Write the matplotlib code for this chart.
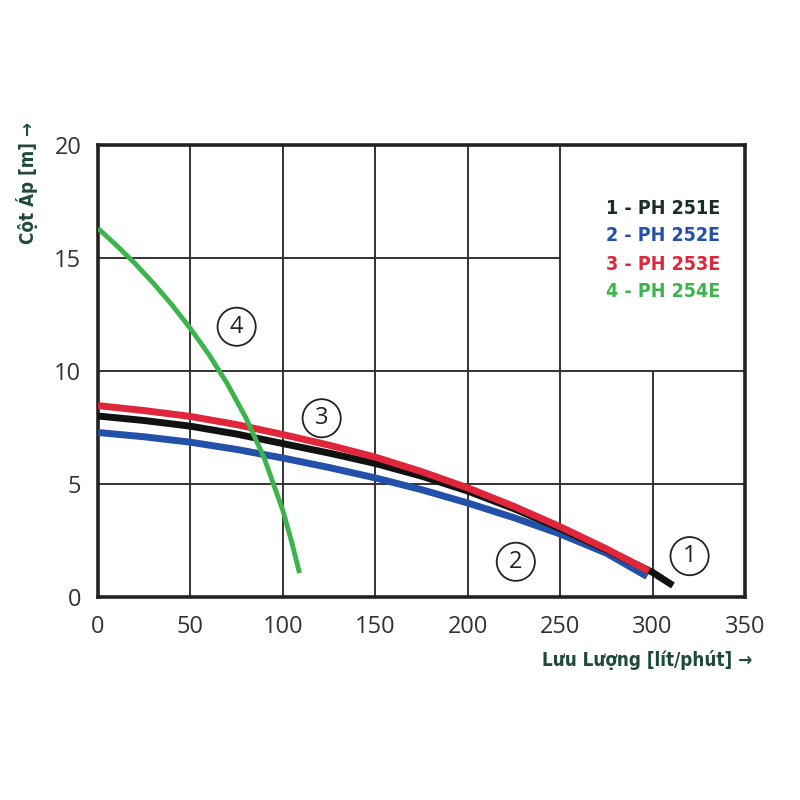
import os
import matplotlib
matplotlib.use("Agg")
import matplotlib.pyplot as plt
from matplotlib import font_manager as fm

# ---------------- data ----------------
x_ticks = [0, 50, 100, 150, 200, 250, 300, 350]
y_ticks = [0, 5, 10, 15, 20]

x1 = [0, 25, 50, 75, 100, 125, 150, 175, 200, 225, 250, 275, 300, 311]
y1 = [8.0, 7.8, 7.55, 7.2, 6.78, 6.36, 5.9, 5.34, 4.68, 3.9, 3.02, 2.08, 1.08, 0.5]

x2 = [0, 25, 50, 75, 100, 125, 150, 175, 200, 225, 250, 275, 297]
y2 = [7.27, 7.08, 6.84, 6.52, 6.14, 5.72, 5.26, 4.74, 4.15, 3.5, 2.78, 1.93, 0.9]

x3 = [0, 25, 50, 75, 100, 125, 150, 175, 200, 225, 250, 275, 298]
y3 = [8.46, 8.24, 7.98, 7.62, 7.18, 6.71, 6.18, 5.54, 4.82, 4.0, 3.1, 2.12, 1.14]

x4 = [0, 10, 20, 30, 40, 50, 60, 70, 80, 90, 100, 105, 109]
y4 = [16.3, 15.55, 14.75, 13.87, 12.92, 11.87, 10.72, 9.42, 7.92, 6.12, 3.82, 2.35, 1.05]

legend_labels = ["1 - PH 251E", "2 - PH 252E", "3 - PH 253E", "4 - PH 254E"]
curve_ids = ["1", "2", "3", "4"]
label_pos = [(320, 1.8), (226, 1.55), (121, 7.9), (75, 11.95)]

xlabel = "Lưu Lượng [lít/phút] →"
ylabel = "Cột Áp [m] →"

# ---------------- fonts ----------------
def find_font(names):
    files = fm.findSystemFonts()
    for n in names:
        for f in files:
            if os.path.basename(f).lower() == n.lower():
                return f
    return None

narrow_file = find_font(["LiberationSansNarrow-Bold.ttf", "DejaVuSansCondensed-Bold.ttf",
                         "RobotoCondensed-Bold.ttf", "OpenSans_Condensed-Bold.ttf"])
if narrow_file:
    def narrow_fp(size):
        return fm.FontProperties(fname=narrow_file, size=size)
else:
    def narrow_fp(size):
        return fm.FontProperties(family="DejaVu Sans", weight="bold", stretch="condensed", size=size)

avail = {f.name for f in fm.fontManager.ttflist}
tickfont = "Open Sans" if "Open Sans" in avail else "DejaVu Sans"

c_black = "#111111"
c_blue = "#2350a8"
c_red = "#e0263a"
c_green = "#3cb44b"
c_label = "#1d4a3a"
grid_c = "#333333"

fig = plt.figure(figsize=(8, 8), dpi=100)
ax = fig.add_axes([0.1225, 0.254, 0.8088, 0.565])
ax.set_xlim(0, 350)
ax.set_ylim(0, 20)

# grid (legend area kept blank)
ax.vlines([50, 100, 150, 200, 250], 0, 20, color=grid_c, lw=1.4, zorder=1)
ax.vlines([300], 0, 10, color=grid_c, lw=1.4, zorder=1)
ax.hlines([5, 10], 0, 350, color=grid_c, lw=1.4, zorder=1)
ax.hlines([15], 0, 250, color=grid_c, lw=1.4, zorder=1)

ax.plot(x2, y2, color=c_blue, lw=5, solid_capstyle="butt", solid_joinstyle="round", zorder=3)
ax.plot(x1, y1, color=c_black, lw=5, solid_capstyle="butt", solid_joinstyle="round", zorder=4)
ax.plot(x3, y3, color=c_red, lw=5, solid_capstyle="butt", solid_joinstyle="round", zorder=5)
ax.plot(x4, y4, color=c_green, lw=3.5, solid_capstyle="butt", solid_joinstyle="round", zorder=6)

for cid, (px, py) in zip(curve_ids, label_pos):
    ax.text(px, py, cid, ha="center", va="center", fontsize=17,
            family=tickfont, color="#222222", zorder=7,
            bbox=dict(boxstyle="circle,pad=0.3", fc="white", ec="#222222", lw=1.3))

leg_colors = ["#1a2e22", c_blue, c_red, c_green]
leg_y = [17.2, 16.0, 14.7, 13.5]
for lab, col, yy in zip(legend_labels, leg_colors, leg_y):
    ax.text(275, yy, lab, ha="left", va="center", color=col,
            fontproperties=narrow_fp(14), zorder=7)

for s in ax.spines.values():
    s.set_linewidth(2.6)
    s.set_color("#222222")

ax.set_xticks(x_ticks)
ax.set_yticks(y_ticks)
ax.tick_params(length=0, labelsize=17, colors="#333333")
ax.tick_params(axis="x", pad=13)
ax.tick_params(axis="y", pad=12)
for lbl in ax.get_xticklabels() + ax.get_yticklabels():
    lbl.set_family(tickfont)

fig.text(752 / 800, 1 - 660 / 800, xlabel, ha="right", va="center",
         color=c_label, fontproperties=narrow_fp(13.5))
fig.text(27 / 800, 1 - 183 / 800, ylabel, ha="center", va="center",
         color=c_label, fontproperties=narrow_fp(13.5), rotation=90)

fig.savefig("out.png", dpi=100, facecolor="white")
